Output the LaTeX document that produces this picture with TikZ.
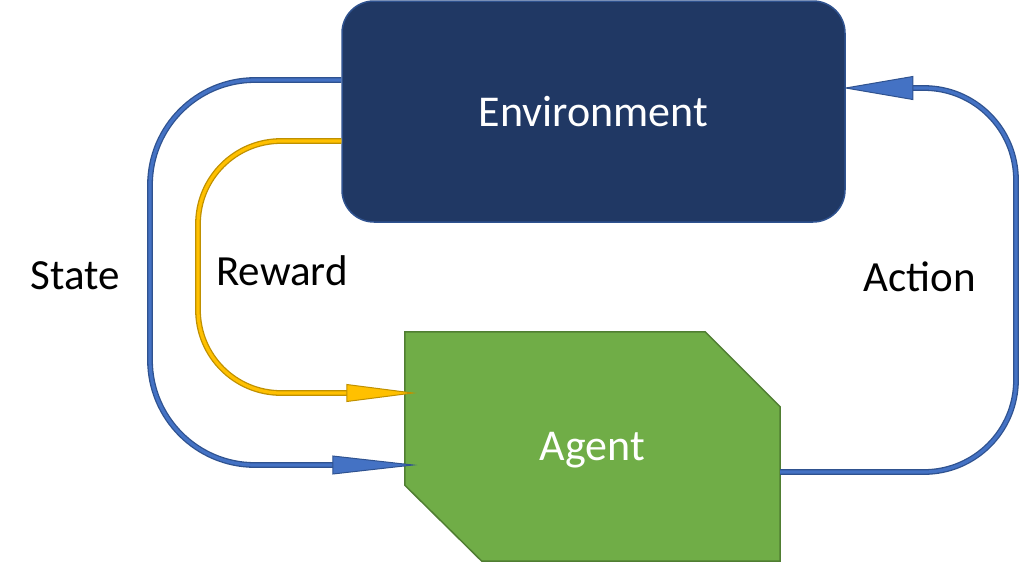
\documentclass[tikz,border=0pt]{standalone}
\usepackage{fontspec}
\setmainfont{Carlito}
\usetikzlibrary{calc}

\definecolor{envfill}{HTML}{203864}
\definecolor{envline}{HTML}{2F528F}
\definecolor{agentfill}{HTML}{70AD47}
\definecolor{agentline}{HTML}{507E32}
\definecolor{pipeblue}{HTML}{4472C4}
\definecolor{pipeblueedge}{HTML}{2F528F}
\definecolor{pipegold}{HTML}{FFC000}
\definecolor{pipegoldedge}{HTML}{BF9000}

\tikzset{
  label text/.style={font=\fontsize{43}{50}\selectfont, text=black, inner sep=0pt},
  box text/.style={font=\fontsize{44}{50}\selectfont, text=white, inner sep=0pt},
  envbox/.style={rectangle, rounded corners=32pt, fill=envfill, draw=envline,
    line width=1.5pt, minimum width=503pt, minimum height=221pt},
  agentface/.style={fill=agentfill, draw=agentline, line width=1.5pt, line join=miter},
  bluepipe/.style={draw=pipeblueedge, line width=1.3pt, double=pipeblue, double distance=3.2pt},
  goldpipe/.style={draw=pipegoldedge, line width=1.3pt, double=pipegold, double distance=3.2pt},
  bluehead/.style={fill=pipeblue, draw=pipeblueedge, line width=1pt, line join=miter},
  goldhead/.style={fill=pipegold, draw=pipegoldedge, line width=1pt, line join=miter},
}

\begin{document}
\begin{tikzpicture}[x=1pt, y=-1pt]
  \useasboundingbox (0,0) rectangle (1020,563);

  % Environment block
  \node[envbox, box text] (env) at (593.5,111.5) {Environment};

  % Agent block: a rectangle with two chamfered corners
  \node[minimum width=375pt, minimum height=229pt, inner sep=0pt] (agent) at (592.5,446.5) {};
  \path[agentface] (agent.north west)
    -- ([xshift=-75pt]agent.north east)
    -- ([yshift=-75pt]agent.north east)
    -- (agent.south east)
    -- ([xshift=77pt]agent.south west)
    -- ([yshift=76pt]agent.south west)
    -- cycle;
  \node[box text] (agentlabel) at ([yshift=-4pt]agent.center) {Agent};

  % Turning columns of the loops
  \coordinate (stateCol) at (150,300);
  \coordinate (rewardCol) at (198,300);
  \coordinate (actionCol) at (1016,300);

  % Start points of the connectors
  \coordinate (stateStart) at ([yshift=31.5pt]env.west);
  \coordinate (rewardStart) at ([yshift=-29.5pt]env.west);
  \coordinate (actionStart) at ([yshift=-25.5pt]agent.east);

  % Arrow tips
  \coordinate (stateTip) at ([xshift=8pt,yshift=-18.5pt]agent.west);
  \coordinate (rewardTip) at ([xshift=8pt,yshift=53.5pt]agent.west);
  \coordinate (actionTip) at ([yshift=23.5pt]env.east);

  % State: environment -> agent
  \draw[bluepipe, rounded corners=105pt]
    (stateStart) -- (stateCol |- stateStart) -- (stateCol |- stateTip)
    -- ([xshift=-70pt]stateTip);
  \path[bluehead] (stateTip) -- ++(-80pt,9pt) -- ++(0,-18pt) -- cycle;

  % Reward: environment -> agent
  \draw[goldpipe, rounded corners=83pt]
    (rewardStart) -- (rewardCol |- rewardStart) -- (rewardCol |- rewardTip)
    -- ([xshift=-58pt]rewardTip);
  \path[goldhead] (rewardTip) -- ++(-66pt,8.5pt) -- ++(0,-17pt) -- cycle;

  % Action: agent -> environment
  \draw[bluepipe, rounded corners=92pt]
    (actionStart) -- (actionCol |- actionStart) -- (actionCol |- actionTip)
    -- ([xshift=60pt]actionTip);
  \path[bluehead] (actionTip) -- ++(67pt,11.5pt) -- ++(0,-23pt) -- cycle;

  % Loop labels
  \node[label text] (stateLabel) at (75,276) {State};
  \node[label text] (rewardLabel) at (282,271) {Reward};
  \node[label text] (actionLabel) at (920,277) {Action};
\end{tikzpicture}
\end{document}
